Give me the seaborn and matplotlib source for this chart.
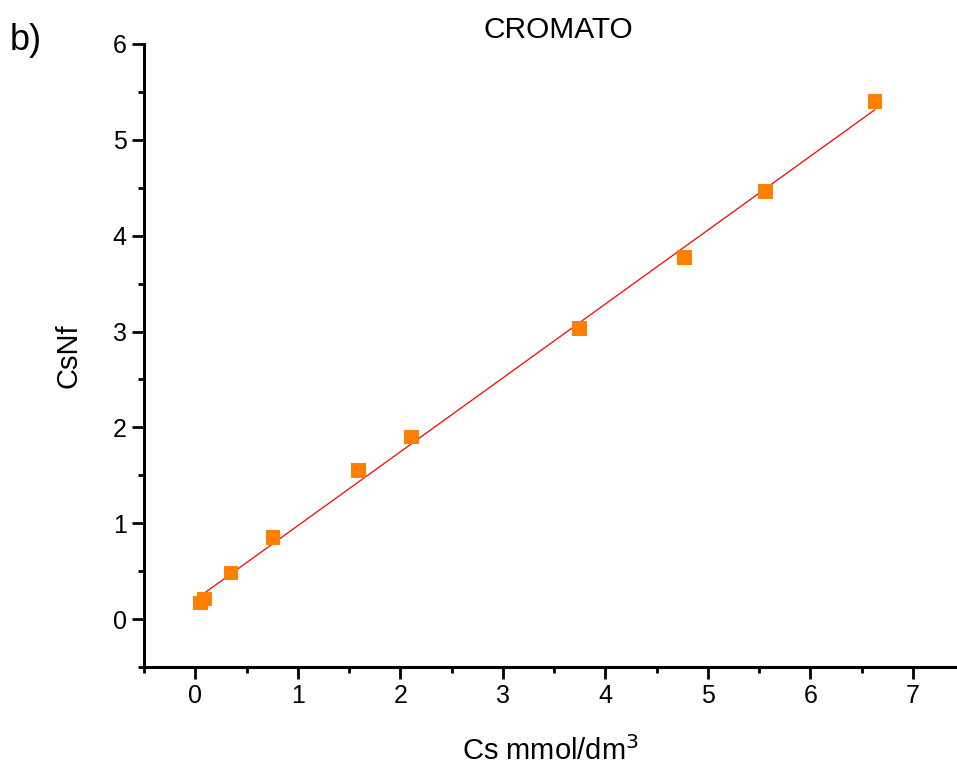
import numpy as np
import pandas as pd
import matplotlib
matplotlib.use("Agg")
import matplotlib.pyplot as plt
import seaborn as sns
from matplotlib.ticker import MultipleLocator

# data
cs = [0.05, 0.09, 0.35, 0.76, 1.59, 2.11, 3.75, 4.77, 5.56, 6.63]
csnf = [0.17, 0.21, 0.48, 0.85, 1.55, 1.90, 3.03, 3.77, 4.46, 5.40]

df = pd.DataFrame({"Cs": cs, "CsNf": csnf})

sns.set_style("ticks")
plt.rcParams["font.family"] = ["Liberation Sans", "DejaVu Sans"]
plt.rcParams["text.color"] = "black"
plt.rcParams["axes.labelcolor"] = "black"
plt.rcParams["xtick.color"] = "black"
plt.rcParams["ytick.color"] = "black"
plt.rcParams["axes.edgecolor"] = "black"

fig = plt.figure(figsize=(9.57, 7.65), dpi=100)
ax = fig.add_axes([0.1505, 0.128, 0.8495, 0.8145])

# linear fit line
slope, intercept = np.polyfit(df["Cs"], df["CsNf"], 1)
xfit = np.array([df["Cs"].min(), df["Cs"].max()])
ax.plot(xfit, slope * xfit + intercept, color="red", lw=0.9, zorder=2)

sns.scatterplot(x="Cs", y="CsNf", data=df, marker="s", s=110,
                color="#ff8000", edgecolor="none", ax=ax, zorder=3)

ax.set_xlim(-0.5, 7.43)
ax.set_ylim(-0.5, 6)
ax.xaxis.set_major_locator(MultipleLocator(1))
ax.xaxis.set_minor_locator(MultipleLocator(0.5))
ax.yaxis.set_major_locator(MultipleLocator(1))
ax.yaxis.set_minor_locator(MultipleLocator(0.5))
ax.tick_params(which="major", length=8.5, width=2, labelsize=18, direction="out", pad=4)
ax.tick_params(which="minor", length=4.5, width=2, direction="out")
for side in ["top", "right"]:
    ax.spines[side].set_visible(False)
for side in ["left", "bottom"]:
    ax.spines[side].set_linewidth(2.2)

ax.set_xlabel("Cs mmol/dm$^3$", fontsize=21, labelpad=20)
ax.set_ylabel("CsNf", fontsize=21, labelpad=22)
ax.set_title("CROMATO", fontsize=21.5, pad=4, x=0.51)
fig.text(0.01, 0.935, "b)", fontsize=26)

fig.savefig("out.png", dpi=100)
